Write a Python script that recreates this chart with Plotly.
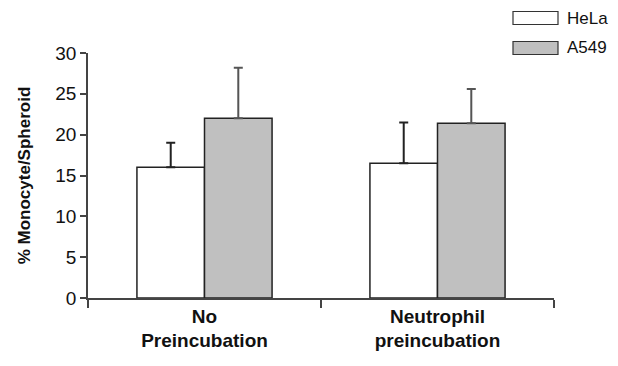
import plotly.graph_objects as go

categories = ["No<br>Preincubation", "Neutrophil<br>preincubation"]
series_names = ["HeLa", "A549"]
hela_values = [16.0, 16.5]
hela_err = [3.0, 5.0]
a549_values = [22.0, 21.4]
a549_err = [6.2, 4.2]
y_ticks = [0, 5, 10, 15, 20, 25, 30]

fills = ["#ffffff", "#c0c0c0"]
err_colors = ["#222222", "#555555"]

fig = go.Figure()
for name, vals, errs, fc, ec in zip(series_names, [hela_values, a549_values],
                                    [hela_err, a549_err], fills, err_colors):
    fig.add_trace(go.Bar(
        x=categories, y=vals, name=name,
        marker=dict(color=fc, line=dict(color="#222222", width=1.5)),
        error_y=dict(type="data", symmetric=False, array=errs,
                     arrayminus=[0] * len(errs), color=ec, thickness=2, width=4.5),
        showlegend=False,
    ))

# page body has an 8px margin, so the figure is offset by 8px
fig.update_layout(
    width=618, height=366,
    margin=dict(l=80, r=72, t=45, b=76),
    paper_bgcolor="white", plot_bgcolor="white",
    barmode="group", bargap=0.42, bargroupgap=0,
    font=dict(family="Arial, Liberation Sans, sans-serif", color="#111111"),
    xaxis=dict(
        automargin=False,
        showline=True, linecolor="#444444", linewidth=1.5,
        ticks="outside", tickson="boundaries", ticklen=8, tickcolor="#444444",
        tickwidth=1.5,
        tickfont=dict(size=19, weight="bold", color="#111111"),
        showgrid=False,
    ),
    yaxis=dict(
        automargin=False,
        range=[0, 30], tickvals=y_ticks,
        showline=True, linecolor="#444444", linewidth=1.5,
        ticks="outside", ticklen=6, tickcolor="#444444", tickwidth=1.5,
        tickfont=dict(size=19, color="#111111"),
        showgrid=False, zeroline=False,
        title=dict(text="% Monocyte/Spheroid",
                   font=dict(size=17, weight="bold", color="#111111"),
                   standoff=20),
    ),
)

# legend drawn as wide boxes (paper coords relative to plot area)
leg_y = [18, 48]
for name, fc, yc in zip(series_names, fills, leg_y):
    fig.add_shape(type="rect", xref="paper", yref="paper",
                  x0=(513 - 88) / 466, x1=(558 - 88) / 466,
                  y0=(298 - (yc + 6.5)) / 245, y1=(298 - (yc - 6.5)) / 245,
                  fillcolor=fc, line=dict(color="#333333", width=1.2))
    fig.add_annotation(xref="paper", yref="paper", x=(565 - 88) / 466,
                       y=(298 - yc) / 245, text=name, showarrow=False,
                       xanchor="left", yanchor="middle",
                       font=dict(size=17, color="#111111"))

fig.write_html("out.html")
